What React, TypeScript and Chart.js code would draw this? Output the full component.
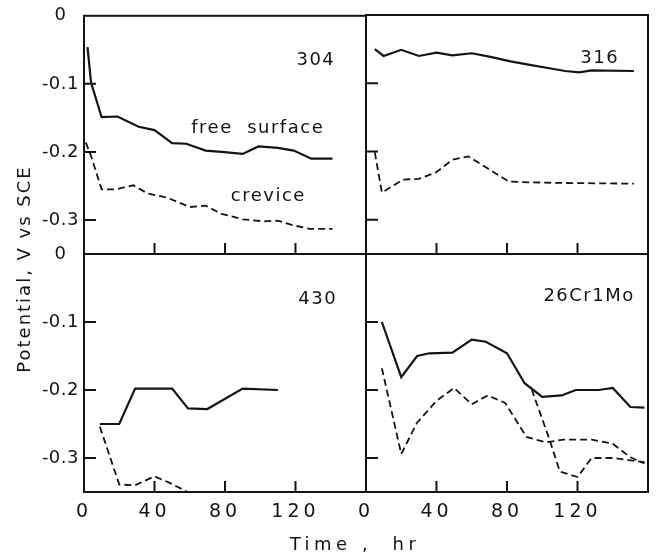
import { useEffect, useRef } from 'react';
import { Chart, registerables } from 'chart.js';

Chart.register(...registerables);

// ---------- axis definitions ----------
const X_MIN = 0;
const X_MAX = 160;
const Y_MIN = -0.35;
const Y_MAX = 0;
const X_TICKS = [0, 40, 80, 120];
const Y_TICKS = [0, -0.1, -0.2, -0.3];
const Y_TICK_LABELS = ['0', '-0.1', '-0.2', '-0.3'];

// ---------- data (time in hr, potential in V vs SCE) ----------
// 304
const t304Free = [2, 4, 10, 19, 31, 40, 50, 58, 69, 78, 90, 99, 110, 119, 129, 141];
const v304Free = [-0.046, -0.098, -0.149, -0.148, -0.163, -0.168, -0.187, -0.188, -0.198, -0.2, -0.203, -0.192, -0.194, -0.198, -0.21, -0.21];
const t304Crev = [1, 4, 10, 18, 28, 36, 47, 60, 69, 78, 90, 102, 110, 119, 128, 141];
const v304Crev = [-0.186, -0.206, -0.255, -0.255, -0.249, -0.261, -0.267, -0.281, -0.279, -0.291, -0.299, -0.302, -0.301, -0.308, -0.313, -0.313];
// 316
const t316Free = [5, 10, 20, 30, 40, 49, 60, 70, 82, 93, 104, 113, 121, 128, 152];
const v316Free = [-0.05, -0.06, -0.051, -0.06, -0.055, -0.059, -0.056, -0.061, -0.068, -0.073, -0.078, -0.082, -0.084, -0.081, -0.082];
const t316Crev = [5, 9, 21, 30, 40, 49, 58, 68, 81, 93, 112, 152];
const v316Crev = [-0.201, -0.26, -0.241, -0.24, -0.23, -0.212, -0.207, -0.223, -0.244, -0.245, -0.246, -0.247];
// 430
const t430Free = [9, 20, 29, 50, 59, 70, 90, 110];
const v430Free = [-0.25, -0.25, -0.198, -0.198, -0.227, -0.228, -0.198, -0.2];
const t430Crev = [9, 20, 29, 40, 49, 58, 70];
const v430Crev = [-0.254, -0.339, -0.34, -0.327, -0.337, -0.349, -0.365];
// 26Cr1Mo
const tCrMoFree = [9, 20, 29, 36, 49, 60, 68, 80, 90, 100, 111, 119, 132, 140, 150, 158];
const vCrMoFree = [-0.1, -0.181, -0.15, -0.146, -0.145, -0.126, -0.129, -0.146, -0.19, -0.21, -0.208, -0.2, -0.2, -0.197, -0.225, -0.226];
const tCrMoCrevA = [9, 20, 29, 40, 50, 60, 69, 79, 91, 102, 112, 128, 140, 150, 158];
const vCrMoCrevA = [-0.168, -0.294, -0.248, -0.216, -0.197, -0.221, -0.208, -0.219, -0.269, -0.277, -0.273, -0.273, -0.279, -0.299, -0.308];
const tCrMoCrevB = [94, 104, 110, 120, 128, 140, 158];
const vCrMoCrevB = [-0.199, -0.272, -0.32, -0.328, -0.3, -0.3, -0.306];

// ---------- text ----------
const PANEL_NAMES = ['304', '316', '430', '26Cr1Mo'];
const LABEL_FREE = 'free  surface';
const LABEL_CREV = 'crevice';
const X_TITLE = 'Time ,  hr';
const Y_TITLE = 'Potential, V vs SCE';

// ---------- layout / style ----------
const PAGE_W = 657;
const PAGE_H = 557;
const FONT = '"DejaVu Sans", sans-serif';
const INK = '#141414';

type Series = { t: number[]; v: number[]; dashed: boolean };
type Note = { text: string; x: number; y: number };
type Panel = {
  area: [number, number, number, number];
  showX: boolean;
  showY: boolean;
  series: Series[];
  notes: Note[];
  titles: boolean;
};

const PANELS: Panel[] = [
  {
    area: [84, 15, 366, 254],
    showX: false,
    showY: true,
    series: [
      { t: t304Free, v: v304Free, dashed: false },
      { t: t304Crev, v: v304Crev, dashed: true },
    ],
    notes: [
      { text: PANEL_NAMES[0], x: 131, y: -0.066 },
      { text: LABEL_FREE, x: 98, y: -0.166 },
      { text: LABEL_CREV, x: 104, y: -0.265 },
    ],
    titles: false,
  },
  {
    area: [366, 15, 648, 254],
    showX: false,
    showY: false,
    series: [
      { t: t316Free, v: v316Free, dashed: false },
      { t: t316Crev, v: v316Crev, dashed: true },
    ],
    notes: [{ text: PANEL_NAMES[1], x: 132, y: -0.063 }],
    titles: false,
  },
  {
    area: [84, 254, 366, 492],
    showX: true,
    showY: true,
    series: [
      { t: t430Free, v: v430Free, dashed: false },
      { t: t430Crev, v: v430Crev, dashed: true },
    ],
    notes: [{ text: PANEL_NAMES[2], x: 132, y: -0.066 }],
    titles: true,
  },
  {
    area: [366, 254, 648, 492],
    showX: true,
    showY: false,
    series: [
      { t: tCrMoFree, v: vCrMoFree, dashed: false },
      { t: tCrMoCrevA, v: vCrMoCrevA, dashed: true },
      { t: tCrMoCrevB, v: vCrMoCrevB, dashed: true },
    ],
    notes: [{ text: PANEL_NAMES[3], x: 126, y: -0.062 }],
    titles: false,
  },
];

const Y_AXIS_SPACING = '0.5px';
const X_AXIS_SPACING = '4px';
const NOTE_SPACING = '1.5px';

function makeChart(canvas: HTMLCanvasElement, panel: Panel): Chart {
  const [L, T, R, B] = panel.area;
  const yW = panel.showY ? L : 0;
  const xH = panel.showX ? 40 : 0;

  const deco = {
    id: 'panelDeco',
    beforeLayout(chart: any) {
      chart.ctx.letterSpacing = Y_AXIS_SPACING;
    },
    beforeDraw(chart: any) {
      chart.ctx.letterSpacing = Y_AXIS_SPACING;
    },
    afterDatasetsDraw(chart: any) {
      chart.ctx.letterSpacing = X_AXIS_SPACING;
    },
    afterDraw(chart: any) {
      const ctx = chart.ctx as CanvasRenderingContext2D;
      const a = chart.chartArea;
      const xs = chart.scales.x;
      const ys = chart.scales.y;
      ctx.save();
      ctx.strokeStyle = INK;
      ctx.lineWidth = 2;
      ctx.strokeRect(a.left, a.top, a.right - a.left, a.bottom - a.top);
      ctx.beginPath();
      X_TICKS.forEach((v) => {
        if (v <= X_MIN || v >= X_MAX) return;
        const px = xs.getPixelForValue(v);
        ctx.moveTo(px, a.bottom);
        ctx.lineTo(px, a.bottom - 11);
      });
      Y_TICKS.forEach((v) => {
        if (v >= Y_MAX || v <= Y_MIN) return;
        const py = ys.getPixelForValue(v);
        ctx.moveTo(a.left, py);
        ctx.lineTo(a.left + 12, py);
      });
      ctx.stroke();

      ctx.fillStyle = INK;
      ctx.textAlign = 'center';
      ctx.textBaseline = 'middle';
      ctx.font = `18px ${FONT}`;
      (ctx as any).letterSpacing = NOTE_SPACING;
      panel.notes.forEach((n) => {
        ctx.fillText(n.text, xs.getPixelForValue(n.x) + 1, ys.getPixelForValue(n.y));
      });

      if (panel.titles) {
        (ctx as any).letterSpacing = '4.5px';
        ctx.fillText(X_TITLE, 355, 545);
        (ctx as any).letterSpacing = '2px';
        ctx.save();
        ctx.translate(25, 270);
        ctx.rotate(-Math.PI / 2);
        ctx.fillText(Y_TITLE, 1, 0);
        ctx.restore();
      }
      ctx.restore();
    },
  };

  return new Chart(canvas, {
    type: 'line',
    data: {
      datasets: panel.series.map((s) => ({
        data: s.t.map((t, i) => ({ x: t, y: s.v[i] })),
        borderColor: INK,
        borderWidth: s.dashed ? 1.8 : 2.2,
        borderDash: s.dashed ? [7, 4] : [],
        pointRadius: 0,
        tension: 0,
        fill: false,
      })),
    },
    options: {
      responsive: false,
      animation: false,
      events: [],
      layout: {
        padding: { left: L - yW, top: T, right: PAGE_W - R, bottom: PAGE_H - B - xH },
      },
      plugins: {
        legend: { display: false },
        tooltip: { enabled: false },
        title: { display: false },
      },
      scales: {
        x: {
          type: 'linear',
          min: X_MIN,
          max: X_MAX,
          grid: { display: false, drawTicks: false },
          border: { display: false },
          afterBuildTicks: (s: any) => {
            s.ticks = X_TICKS.map((v) => ({ value: v }));
          },
          afterFit: (s: any) => {
            s.height = xH;
          },
          ticks: {
            display: panel.showX,
            z: 1,
            padding: 9,
            maxRotation: 0,
            autoSkip: false,
            color: INK,
            font: { family: FONT, size: 19 },
            callback: (v: any) => String(v),
          },
        },
        y: {
          type: 'linear',
          min: Y_MIN,
          max: Y_MAX,
          grid: { display: false, drawTicks: false },
          border: { display: false },
          afterBuildTicks: (s: any) => {
            s.ticks = Y_TICKS.map((v) => ({ value: v }));
          },
          afterFit: (s: any) => {
            s.width = yW;
          },
          ticks: {
            display: panel.showY,
            padding: 5,
            crossAlign: 'center',
            autoSkip: false,
            color: INK,
            font: { family: FONT, size: 18 },
            callback: (v: any) => {
              const i = Y_TICKS.findIndex((t) => Math.abs(t - Number(v)) < 1e-6);
              return i >= 0 ? Y_TICK_LABELS[i] : '';
            },
          },
        },
      },
    },
    plugins: [deco],
  } as any);
}

export default function App() {
  const refs = useRef<(HTMLCanvasElement | null)[]>([]);

  useEffect(() => {
    const charts = PANELS.map((p, i) => makeChart(refs.current[i] as HTMLCanvasElement, p));
    return () => charts.forEach((c) => c.destroy());
  }, []);

  return (
    <div style={{ position: 'absolute', left: 0, top: 0, width: PAGE_W, height: PAGE_H, background: '#fff' }}>
      {PANELS.map((_, i) => (
        <canvas
          key={i}
          ref={(el) => {
            refs.current[i] = el;
          }}
          width={PAGE_W}
          height={PAGE_H}
          style={{ position: 'absolute', left: 0, top: 0, width: PAGE_W, height: PAGE_H }}
        />
      ))}
    </div>
  );
}
